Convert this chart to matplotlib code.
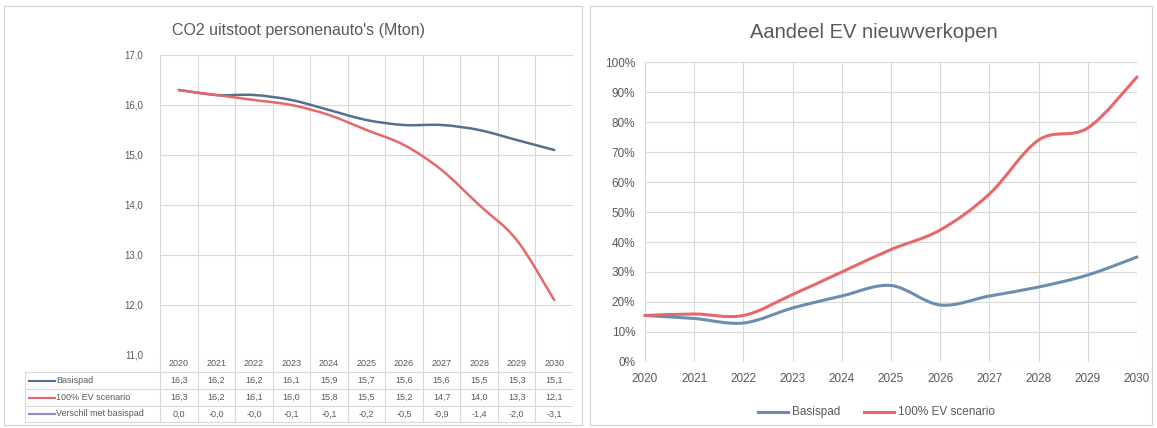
import matplotlib
matplotlib.use("Agg")
import matplotlib.pyplot as plt
from matplotlib.path import Path
from matplotlib.patches import PathPatch, Rectangle
import numpy as np

plt.rcParams['font.family'] = ['Liberation Sans', 'DejaVu Sans']

# ---------------- data ----------------
years = ["2020", "2021", "2022", "2023", "2024", "2025", "2026", "2027", "2028", "2029", "2030"]

co2_basispad = [16.3, 16.2, 16.2, 16.1, 15.9, 15.7, 15.6, 15.6, 15.5, 15.3, 15.1]
co2_ev = [16.3, 16.2, 16.1, 16.0, 15.8, 15.5, 15.2, 14.7, 14.0, 13.3, 12.1]
co2_verschil = [0.0, -0.0, -0.0, -0.1, -0.1, -0.2, -0.5, -0.9, -1.4, -2.0, -3.1]
co2_ticks = [11.0, 12.0, 13.0, 14.0, 15.0, 16.0, 17.0]

ev_basispad = [15.5, 14.5, 13.0, 18.0, 22.0, 25.5, 19.0, 22.0, 25.0, 29.0, 35.0]
ev_scenario = [15.5, 16.0, 15.5, 22.5, 30.0, 37.5, 44.0, 56.0, 74.0, 78.0, 95.0]
pct_ticks = [0, 10, 20, 30, 40, 50, 60, 70, 80, 90, 100]

series_labels = ["Basispad", "100% EV scenario", "Verschil met basispad"]
title_left = "CO2 uitstoot personenauto's (Mton)"
title_right = "Aandeel EV nieuwverkopen"

BLUE = "#52708f"
BLUE2 = "#6b8db0"
RED = "#e8676b"
PURPLE = "#9b84cf"
GRID = "#d9d9d9"
TXT = "#595959"


def smooth_patch(xs, ys, color, lw):
    """Excel-style smoothed line: cubic Bezier segments through the data points."""
    xs = np.asarray(xs, float)
    ys = np.asarray(ys, float)
    n = len(xs)
    verts = [(xs[0], ys[0])]
    codes = [Path.MOVETO]
    for i in range(n - 1):
        i0 = max(i - 1, 0)
        i3 = min(i + 2, n - 1)
        c1 = (xs[i] + (xs[i + 1] - xs[i0]) / 6, ys[i] + (ys[i + 1] - ys[i0]) / 6)
        c2 = (xs[i + 1] - (xs[i3] - xs[i]) / 6, ys[i + 1] - (ys[i3] - ys[i]) / 6)
        verts += [c1, c2, (xs[i + 1], ys[i + 1])]
        codes += [Path.CURVE4] * 3
    return PathPatch(Path(verts, codes), facecolor="none", edgecolor=color,
                     lw=lw, capstyle="round", joinstyle="round", zorder=3)


W, H = 1157, 428
fig = plt.figure(figsize=(W / 100, H / 100), dpi=100)
fig.patch.set_facecolor("white")

# panel frames
fig.patches.append(Rectangle((4 / W, 1 - 425 / H), 578 / W, 419 / H, transform=fig.transFigure,
                             fill=False, edgecolor="#d0d0d0", lw=0.8))
fig.patches.append(Rectangle((590 / W, 1 - 425 / H), 562 / W, 419 / H, transform=fig.transFigure,
                             fill=False, edgecolor="#d0d0d0", lw=0.8))


def fx(px):
    return px / W


def fy(py):
    return 1 - py / H


# ---------------- left chart ----------------
L, R, T, B = 160, 573, 55, 355
axL = fig.add_axes([fx(L), fy(B), fx(R - L), (B - T) / H])
x = np.arange(len(years))
axL.set_xlim(-0.5, len(years) - 0.5)
axL.set_ylim(co2_ticks[0], co2_ticks[-1])
axL.set_yticks(co2_ticks)
axL.set_yticklabels([f"{v:.1f}".replace(".", ",") for v in co2_ticks], fontsize=7, color=TXT)
axL.set_xticks(np.arange(len(years) + 1) - 0.5, minor=False)
axL.set_xticklabels([])
axL.tick_params(axis="both", length=0, pad=12)
axL.grid(True, color=GRID, lw=0.8)
for s in axL.spines.values():
    s.set_visible(False)
axL.add_patch(smooth_patch(x, co2_basispad, BLUE, 1.8))
axL.add_patch(smooth_patch(x, co2_ev, RED, 1.8))
fig.text(fx(298), fy(31), title_left, ha="center", va="center", fontsize=11.5, color=TXT)

# data table below left chart
TL = 25
colw = (R - L) / len(years)
axT = fig.add_axes([fx(TL), fy(424), fx(R - TL), (424 - B) / H])
axT.set_xlim(TL, R)
axT.set_ylim(424, B)
axT.axis("off")
row_lines = [372, 389, 406, 422]
for yl in row_lines:
    axT.plot([TL, R], [yl, yl], color=GRID, lw=0.8)
axT.plot([TL, TL], [372, 422], color=GRID, lw=0.8)
for k in range(len(years) + 1):
    xl = L + k * colw
    axT.plot([xl, xl], [B, 422], color=GRID, lw=0.8)
for k, yr in enumerate(years):
    axT.text(L + (k + 0.5) * colw, 364, yr, ha="center", va="center", fontsize=6.5, color=TXT)
rows = [co2_basispad, co2_ev, co2_verschil]
row_colors = [BLUE, RED, PURPLE]
row_y = [380.5, 397.5, 414]
for vals, lab, col, yy in zip(rows, series_labels, row_colors, row_y):
    axT.plot([29, 55], [yy, yy], color=col, lw=1.5)
    axT.text(56, yy, lab, ha="left", va="center", fontsize=6.5, color=TXT)
    for k, v in enumerate(vals):
        axT.text(L + (k + 0.5) * colw, yy, f"{v:.1f}".replace(".", ","), ha="center", va="center",
                 fontsize=6.5, color=TXT)

# ---------------- right chart ----------------
L2, R2, T2, B2 = 645, 1137, 62, 362
axR = fig.add_axes([fx(L2), fy(B2), fx(R2 - L2), (B2 - T2) / H])
axR.set_xlim(0, len(years) - 1)
axR.set_ylim(0, 100)
axR.set_yticks(pct_ticks)
axR.set_yticklabels([f"{v}%" for v in pct_ticks], fontsize=8.5, color=TXT)
axR.set_xticks(x)
axR.set_xticklabels(years, fontsize=8.5, color=TXT)
axR.tick_params(axis="y", length=0, pad=7)
axR.tick_params(axis="x", length=0, pad=8)
axR.grid(True, color=GRID, lw=0.8)
for s in axR.spines.values():
    s.set_visible(False)
pB = smooth_patch(x, ev_basispad, BLUE2, 2.2)
pR = smooth_patch(x, ev_scenario, RED, 2.2)
pB.set_clip_on(False)
pR.set_clip_on(False)
axR.add_patch(pB)
axR.add_patch(pR)
fig.text(fx(874), fy(33), title_right, ha="center", va="center", fontsize=14.5, color=TXT)

# legend for right chart
fig.lines.append(plt.Line2D([fx(758), fx(788)], [fy(412), fy(412)], transform=fig.transFigure,
                            color=BLUE2, lw=2.2))
fig.text(fx(792), fy(412), series_labels[0], ha="left", va="center", fontsize=8.5, color=TXT)
fig.lines.append(plt.Line2D([fx(864), fx(894)], [fy(412), fy(412)], transform=fig.transFigure,
                            color=RED, lw=2.2))
fig.text(fx(898), fy(412), series_labels[1], ha="left", va="center", fontsize=8.5, color=TXT)

fig.savefig("out.png", dpi=100, facecolor="white")
